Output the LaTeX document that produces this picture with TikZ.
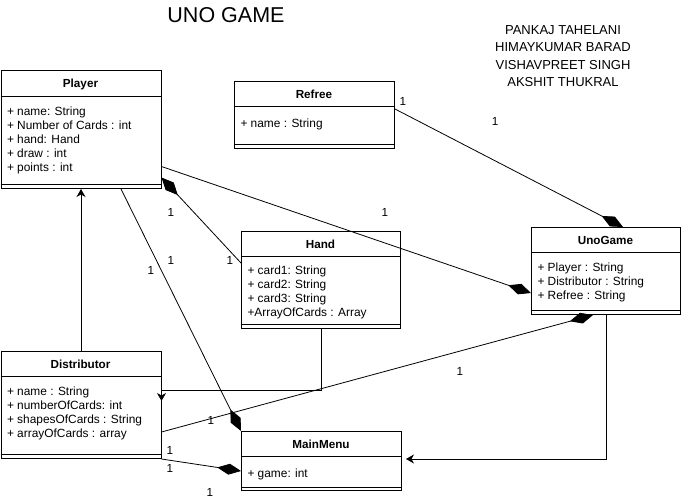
\documentclass[tikz,border=0pt]{standalone}
\usepackage{fontspec}
\setmainfont{Liberation Sans}
\usetikzlibrary{arrows.meta,positioning}

\begin{document}
\begin{tikzpicture}[x=1pt,y=-1pt,line width=1pt,
  umlclass/.style={draw,inner sep=0pt,anchor=north west},
  classname/.style={anchor=base,inner sep=0pt,font=\fontsize{11.7}{14}\selectfont\bfseries},
  attrs/.style={anchor=north west,align=left,inner xsep=6pt,inner ysep=0pt,
    font=\fontsize{11.9}{14}\selectfont,execute at begin node=\strut},
  mult/.style={inner sep=0pt,font=\fontsize{11.7}{14}\selectfont},
  owns/.style={line width=0.8pt,-{Diamond[length=24pt,width=11pt]}},
  gen/.style={line width=0.8pt,-{Stealth[length=8pt,width=9pt,inset=2.5pt]}}]
  \useasboundingbox (0,0) rectangle (681,501);

  \node[font=\fontsize{21.5}{25}\selectfont] (title) at (226,15) {UNO GAME};
  \node[align=center,font=\fontsize{13}{17.3}\selectfont] (team) at (563,56)
    {PANKAJ TAHELANI\\HIMAYKUMAR BARAD\\VISHAVPREET SINGH\\AKSHIT THUKRAL};

  %% Player
  \node[umlclass,minimum width=160pt,minimum height=118pt] (player) at (0.5,70) {};
  \draw (0.5,96) -- (160.5,96) (0.5,184) -- (160.5,184);
  \node[classname] (playername) at (80.5,87) {Player};
  \node[attrs] (playerattrs) at (0.5,106)
    {+ name: String\\+ Number of Cards : int\\+ hand: Hand\\+ draw : int\\+ points : int};

  %% Refree
  \node[umlclass,minimum width=160pt,minimum height=67pt] (refree) at (234,81) {};
  \draw (234,106) -- (394,106) (234,144) -- (394,144);
  \node[classname] (refreename) at (314,98) {Refree};
  \node[attrs] (refreeattrs) at (234,117) {+ name : String};

  %% Hand
  \node[umlclass,minimum width=159pt,minimum height=97pt] (hand) at (241,231) {};
  \draw (241,256) -- (400,256) (241,324) -- (400,324);
  \node[classname] (handname) at (320.5,248) {Hand};
  \node[attrs] (handattrs) at (241,265)
    {+ card1: String\\+ card2: String\\+ card3: String\\+ArrayOfCards : Array};

  %% UnoGame
  \node[umlclass,minimum width=149pt,minimum height=87pt] (unogame) at (531,227) {};
  \draw (531,252) -- (680,252) (531,310) -- (680,310);
  \node[classname] (unogamename) at (605.5,244) {UnoGame};
  \node[attrs] (unogameattrs) at (531,262)
    {+ Player : String\\+ Distributor : String\\+ Refree : String};

  %% Distributor
  \node[umlclass,minimum width=160pt,minimum height=107pt] (distributor) at (0.5,351) {};
  \draw (0.5,376) -- (160.5,376) (0.5,454) -- (160.5,454);
  \node[classname] (distributorname) at (80.5,368) {Distributor};
  \node[attrs] (distributorattrs) at (0.5,386)
    {+ name : String\\+ numberOfCards: int\\+ shapesOfCards : String\\+ arrayOfCards : array};

  %% MainMenu
  \node[umlclass,minimum width=160pt,minimum height=59pt] (mainmenu) at (241,431) {};
  \draw (241,456) -- (401,456) (241,487) -- (401,487);
  \node[classname] (mainmenuname) at (321,448) {MainMenu};
  \node[attrs] (mainmenuattrs) at (241,467) {+ game: int};

  %% connectors
  \draw[gen] (distributor.north) -- (player.south);
  \draw[gen] (hand.south) |- ([yshift=15pt]distributor.east) -- ([yshift=4pt]distributor.east);
  \draw[gen,shorten >=4pt] (unogame.south) |- ([yshift=2pt]mainmenu.east);
  \draw[owns] ([yshift=-37pt]player.east) -- ([yshift=-22pt]unogame.west);
  \draw[owns] ([yshift=6pt]refree.east) -- ([xshift=17pt]unogame.north);
  \draw[owns] ([yshift=17pt]hand.west) -- ([yshift=-48pt]player.east);
  \draw[owns] ([xshift=40pt]player.south) -- (mainmenu.north west);
  \draw[owns] ([yshift=-27pt]distributor.east) -- ([xshift=-13pt]unogame.south);
  \draw[owns] (distributor.south east) -- ([yshift=-10pt]mainmenu.west);

  %% multiplicities
  \foreach \p [count=\i] in {(403,101),(495,121),(171,212),(385,212),(171,260),(230,260),
      (151,270),(460,371),(211,420),(170,450),(170,468),(210,492)}
    \node[mult] (m\i) at \p {1};
\end{tikzpicture}
\end{document}
